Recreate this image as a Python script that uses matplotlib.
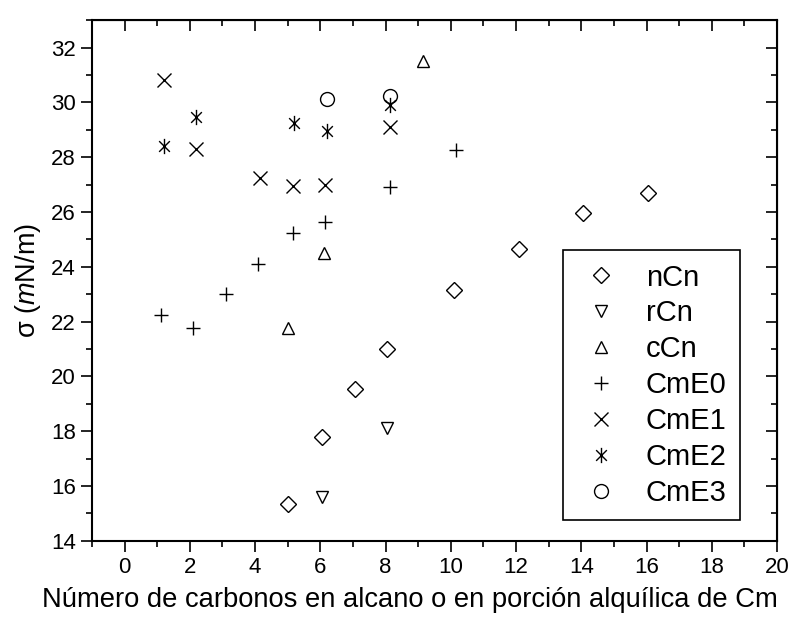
import matplotlib
matplotlib.use("Agg")
import matplotlib.pyplot as plt
from matplotlib.ticker import MultipleLocator
from matplotlib.path import Path

plt.rcParams['font.family'] = ['Liberation Sans', 'DejaVu Sans']
plt.rcParams['mathtext.fontset'] = 'custom'
plt.rcParams['mathtext.rm'] = 'Liberation Sans'
plt.rcParams['mathtext.it'] = 'Liberation Sans:italic'

# values
nCn_x = [5.0, 6.05, 7.05, 8.05, 10.1, 12.1, 14.05, 16.05]
nCn_y = [15.35, 17.8, 19.55, 21.0, 23.15, 24.65, 25.95, 26.7]

rCn_x = [6.05, 8.05]
rCn_y = [15.6, 18.1]

cCn_x = [5.0, 6.1, 9.15]
cCn_y = [21.75, 24.5, 31.5]

CmE0_x = [1.1, 2.1, 3.1, 4.1, 5.15, 6.15, 8.15, 10.15]
CmE0_y = [22.25, 21.75, 23.0, 24.1, 25.25, 25.65, 26.9, 28.25]

CmE1_x = [1.2, 2.2, 4.15, 5.15, 6.15, 8.15]
CmE1_y = [30.8, 28.3, 27.25, 26.95, 27.0, 29.1]

CmE2_x = [1.2, 2.2, 5.2, 6.2, 8.15]
CmE2_y = [28.4, 29.45, 29.25, 28.95, 29.9]

CmE3_x = [6.2, 8.15]
CmE3_y = [30.12, 30.25]

# asterisk like Origin's: an x with a vertical stroke
star = Path([(-0.7, -0.7), (0.7, 0.7), (-0.7, 0.7), (0.7, -0.7), (0, -1), (0, 1)],
            [Path.MOVETO, Path.LINETO, Path.MOVETO, Path.LINETO, Path.MOVETO, Path.LINETO])

fig = plt.figure(figsize=(7.9, 6.31), dpi=100)
ax = fig.add_axes([0.1165, 0.143, 0.867, 0.825])

kw = dict(linestyle='none', color='black', markerfacecolor='none', markeredgewidth=1.0)
ax.plot(nCn_x, nCn_y, marker='D', markersize=8, label='nCn', **kw)
ax.plot(rCn_x, rCn_y, marker='v', markersize=9, label='rCn', **kw)
ax.plot(cCn_x, cCn_y, marker='^', markersize=9, label='cCn', **kw)
ax.plot(CmE0_x, CmE0_y, marker='+', markersize=10, label='CmE0', **kw)
ax.plot(CmE1_x, CmE1_y, marker='x', markersize=10, label='CmE1', **kw)
ax.plot(CmE2_x, CmE2_y, marker=star, markersize=11, label='CmE2', **kw)
ax.plot(CmE3_x, CmE3_y, marker='o', markersize=10, label='CmE3', **kw)

ax.set_xlim(-1, 20)
ax.set_ylim(14, 33)
ax.xaxis.set_major_locator(MultipleLocator(2))
ax.xaxis.set_minor_locator(MultipleLocator(1))
ax.yaxis.set_major_locator(MultipleLocator(2))
ax.yaxis.set_minor_locator(MultipleLocator(1))

ax.tick_params(which='both', direction='out', labelsize=16, width=1.2)
ax.tick_params(which='major', length=8)
ax.tick_params(which='minor', length=4)

# inward ticks on the top and right spines
for side in ('top', 'right'):
    sec = ax.secondary_xaxis('top') if side == 'top' else ax.secondary_yaxis('right')
    axis = sec.xaxis if side == 'top' else sec.yaxis
    axis.set_major_locator(MultipleLocator(2))
    axis.set_minor_locator(MultipleLocator(1))
    sec.tick_params(which='both', direction='in', labelleft=False, labelright=False,
                    labeltop=False, labelbottom=False, width=1.2)
    sec.tick_params(which='major', length=8)
    sec.tick_params(which='minor', length=4)

for s in ax.spines.values():
    s.set_linewidth(1.5)

ax.set_xlabel('Número de carbonos en alcano o en porción alquílica de Cm', fontsize=19.7, labelpad=7)
ax.xaxis.label.set_x(0.464)
ax.set_ylabel(r'σ ($\mathit{m}$N/m)', fontsize=19.5, labelpad=6)

leg = ax.legend(loc='lower right', bbox_to_anchor=(0.946, 0.04), borderaxespad=0, fontsize=21,
                frameon=True, fancybox=False, edgecolor='black', framealpha=1,
                handletextpad=0.68, labelspacing=0.27, borderpad=0.45, handlelength=1.7)
leg.get_frame().set_linewidth(1.2)

fig.savefig('out.png', dpi=100)
